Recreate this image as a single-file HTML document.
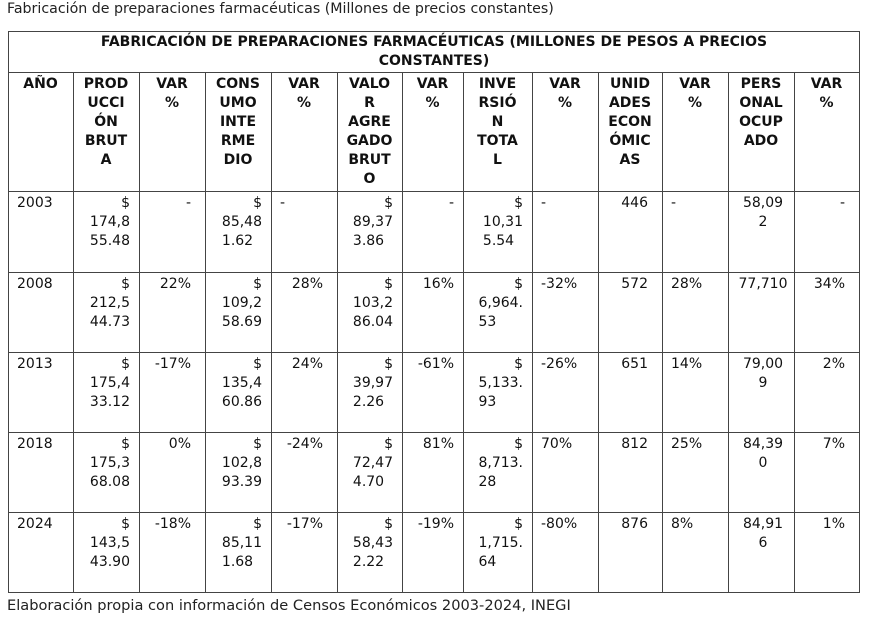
<!DOCTYPE html>
<html><head><meta charset="utf-8"><style>
body{margin:0;width:869px;height:620px;background:#fff;position:relative;overflow:hidden;font-family:"DejaVu Sans","Liberation Sans",sans-serif;color:#111;}
.h{position:absolute;background:#444;height:1px}
.v{position:absolute;background:#444;width:1px}
.c{position:absolute;font-size:14px;line-height:19px;box-sizing:border-box;white-space:nowrap}
.b{font-weight:bold;text-align:center}
.r{text-align:right;padding-right:9px}
.rv{text-align:right;padding-right:14px}
.l{text-align:left;padding-left:9px}
.m{text-align:center}
.ib{display:inline-block;text-align:left}
.ib span{display:block;text-align:right}
</style></head><body>
<div class="c" style="left:7px;top:0px;font-size:14.2px;color:#222">Fabricación de preparaciones farmacéuticas (Millones de precios constantes)</div>
<div class="c" style="left:7px;top:596px;font-size:14.6px;color:#222">Elaboración propia con información de Censos Económicos 2003-2024, INEGI</div>

<div class="h" style="left:8px;width:852px;top:31px"></div>
<div class="h" style="left:8px;width:852px;top:72px"></div>
<div class="h" style="left:8px;width:852px;top:191px"></div>
<div class="h" style="left:8px;width:852px;top:272px"></div>
<div class="h" style="left:8px;width:852px;top:352px"></div>
<div class="h" style="left:8px;width:852px;top:432px"></div>
<div class="h" style="left:8px;width:852px;top:512px"></div>
<div class="h" style="left:8px;width:852px;top:592px"></div>
<div class="v" style="left:8px;top:31px;height:562px"></div>
<div class="v" style="left:859px;top:31px;height:562px"></div>
<div class="v" style="left:73px;top:72px;height:520px"></div>
<div class="v" style="left:139px;top:72px;height:520px"></div>
<div class="v" style="left:205px;top:72px;height:520px"></div>
<div class="v" style="left:271px;top:72px;height:520px"></div>
<div class="v" style="left:337px;top:72px;height:520px"></div>
<div class="v" style="left:402px;top:72px;height:520px"></div>
<div class="v" style="left:463px;top:72px;height:520px"></div>
<div class="v" style="left:532px;top:72px;height:520px"></div>
<div class="v" style="left:598px;top:72px;height:520px"></div>
<div class="v" style="left:662px;top:72px;height:520px"></div>
<div class="v" style="left:728px;top:72px;height:520px"></div>
<div class="v" style="left:794px;top:72px;height:520px"></div>

<div class="c b" style="left:8px;width:852px;top:33px">FABRICACIÓN DE PREPARACIONES FARMACÉUTICAS (MILLONES DE PESOS A PRECIOS<br>CONSTANTES)</div>

<div class="c b" style="left:8px;width:65px;top:75px">AÑO</div>
<div class="c b" style="left:73px;width:66px;top:75px">PROD<br>UCCI<br>ÓN<br>BRUT<br>A</div>
<div class="c b" style="left:139px;width:66px;top:75px">VAR<br>%</div>
<div class="c b" style="left:205px;width:66px;top:75px">CONS<br>UMO<br>INTE<br>RME<br>DIO</div>
<div class="c b" style="left:271px;width:66px;top:75px">VAR<br>%</div>
<div class="c b" style="left:337px;width:65px;top:75px">VALO<br>R<br>AGRE<br>GADO<br>BRUT<br>O</div>
<div class="c b" style="left:402px;width:61px;top:75px">VAR<br>%</div>
<div class="c b" style="left:463px;width:69px;top:75px">INVE<br>RSIÓ<br>N<br>TOTA<br>L</div>
<div class="c b" style="left:532px;width:66px;top:75px">VAR<br>%</div>
<div class="c b" style="left:598px;width:64px;top:75px">UNID<br>ADES<br>ECON<br>ÓMIC<br>AS</div>
<div class="c b" style="left:662px;width:66px;top:75px">VAR<br>%</div>
<div class="c b" style="left:728px;width:66px;top:75px">PERS<br>ONAL<br>OCUP<br>ADO</div>
<div class="c b" style="left:794px;width:65px;top:75px">VAR<br>%</div>

<!-- 2003 -->
<div class="c l" style="left:8px;width:65px;top:194px">2003</div>
<div class="c r" style="left:73px;width:66px;top:194px"><div class="ib"><span>$</span>174,8<br>55.48</div></div>
<div class="c rv" style="left:139px;width:66px;top:194px">-</div>
<div class="c r" style="left:205px;width:66px;top:194px"><div class="ib"><span>$</span>85,48<br>1.62</div></div>
<div class="c l" style="left:271px;width:66px;top:194px">-</div>
<div class="c r" style="left:337px;width:65px;top:194px"><div class="ib"><span>$</span>89,37<br>3.86</div></div>
<div class="c r" style="left:402px;width:61px;top:194px">-</div>
<div class="c r" style="left:463px;width:69px;top:194px"><div class="ib"><span>$</span>10,31<br>5.54</div></div>
<div class="c l" style="left:532px;width:66px;top:194px">-</div>
<div class="c rv" style="left:598px;width:64px;top:194px">446</div>
<div class="c l" style="left:662px;width:66px;top:194px">-</div>
<div class="c m" style="left:728px;width:70px;top:194px">58,09<br>2</div>
<div class="c rv" style="left:794px;width:65px;top:194px">-</div>

<!-- 2008 -->
<div class="c l" style="left:8px;width:65px;top:275px">2008</div>
<div class="c r" style="left:73px;width:66px;top:275px"><div class="ib"><span>$</span>212,5<br>44.73</div></div>
<div class="c rv" style="left:139px;width:66px;top:275px">22%</div>
<div class="c r" style="left:205px;width:66px;top:275px"><div class="ib"><span>$</span>109,2<br>58.69</div></div>
<div class="c rv" style="left:271px;width:66px;top:275px">28%</div>
<div class="c r" style="left:337px;width:65px;top:275px"><div class="ib"><span>$</span>103,2<br>86.04</div></div>
<div class="c r" style="left:402px;width:61px;top:275px">16%</div>
<div class="c r" style="left:463px;width:69px;top:275px"><div class="ib"><span>$</span>6,964.<br>53</div></div>
<div class="c l" style="left:532px;width:66px;top:275px">-32%</div>
<div class="c rv" style="left:598px;width:64px;top:275px">572</div>
<div class="c l" style="left:662px;width:66px;top:275px">28%</div>
<div class="c m" style="left:728px;width:70px;top:275px">77,710</div>
<div class="c rv" style="left:794px;width:65px;top:275px">34%</div>

<!-- 2013 -->
<div class="c l" style="left:8px;width:65px;top:355px">2013</div>
<div class="c r" style="left:73px;width:66px;top:355px"><div class="ib"><span>$</span>175,4<br>33.12</div></div>
<div class="c rv" style="left:139px;width:66px;top:355px">-17%</div>
<div class="c r" style="left:205px;width:66px;top:355px"><div class="ib"><span>$</span>135,4<br>60.86</div></div>
<div class="c rv" style="left:271px;width:66px;top:355px">24%</div>
<div class="c r" style="left:337px;width:65px;top:355px"><div class="ib"><span>$</span>39,97<br>2.26</div></div>
<div class="c r" style="left:402px;width:61px;top:355px">-61%</div>
<div class="c r" style="left:463px;width:69px;top:355px"><div class="ib"><span>$</span>5,133.<br>93</div></div>
<div class="c l" style="left:532px;width:66px;top:355px">-26%</div>
<div class="c rv" style="left:598px;width:64px;top:355px">651</div>
<div class="c l" style="left:662px;width:66px;top:355px">14%</div>
<div class="c m" style="left:728px;width:70px;top:355px">79,00<br>9</div>
<div class="c rv" style="left:794px;width:65px;top:355px">2%</div>

<!-- 2018 -->
<div class="c l" style="left:8px;width:65px;top:435px">2018</div>
<div class="c r" style="left:73px;width:66px;top:435px"><div class="ib"><span>$</span>175,3<br>68.08</div></div>
<div class="c rv" style="left:139px;width:66px;top:435px">0%</div>
<div class="c r" style="left:205px;width:66px;top:435px"><div class="ib"><span>$</span>102,8<br>93.39</div></div>
<div class="c rv" style="left:271px;width:66px;top:435px">-24%</div>
<div class="c r" style="left:337px;width:65px;top:435px"><div class="ib"><span>$</span>72,47<br>4.70</div></div>
<div class="c r" style="left:402px;width:61px;top:435px">81%</div>
<div class="c r" style="left:463px;width:69px;top:435px"><div class="ib"><span>$</span>8,713.<br>28</div></div>
<div class="c l" style="left:532px;width:66px;top:435px">70%</div>
<div class="c rv" style="left:598px;width:64px;top:435px">812</div>
<div class="c l" style="left:662px;width:66px;top:435px">25%</div>
<div class="c m" style="left:728px;width:70px;top:435px">84,39<br>0</div>
<div class="c rv" style="left:794px;width:65px;top:435px">7%</div>

<!-- 2024 -->
<div class="c l" style="left:8px;width:65px;top:515px">2024</div>
<div class="c r" style="left:73px;width:66px;top:515px"><div class="ib"><span>$</span>143,5<br>43.90</div></div>
<div class="c rv" style="left:139px;width:66px;top:515px">-18%</div>
<div class="c r" style="left:205px;width:66px;top:515px"><div class="ib"><span>$</span>85,11<br>1.68</div></div>
<div class="c rv" style="left:271px;width:66px;top:515px">-17%</div>
<div class="c r" style="left:337px;width:65px;top:515px"><div class="ib"><span>$</span>58,43<br>2.22</div></div>
<div class="c r" style="left:402px;width:61px;top:515px">-19%</div>
<div class="c r" style="left:463px;width:69px;top:515px"><div class="ib"><span>$</span>1,715.<br>64</div></div>
<div class="c l" style="left:532px;width:66px;top:515px">-80%</div>
<div class="c rv" style="left:598px;width:64px;top:515px">876</div>
<div class="c l" style="left:662px;width:66px;top:515px">8%</div>
<div class="c m" style="left:728px;width:70px;top:515px">84,91<br>6</div>
<div class="c rv" style="left:794px;width:65px;top:515px">1%</div>
</body></html>
